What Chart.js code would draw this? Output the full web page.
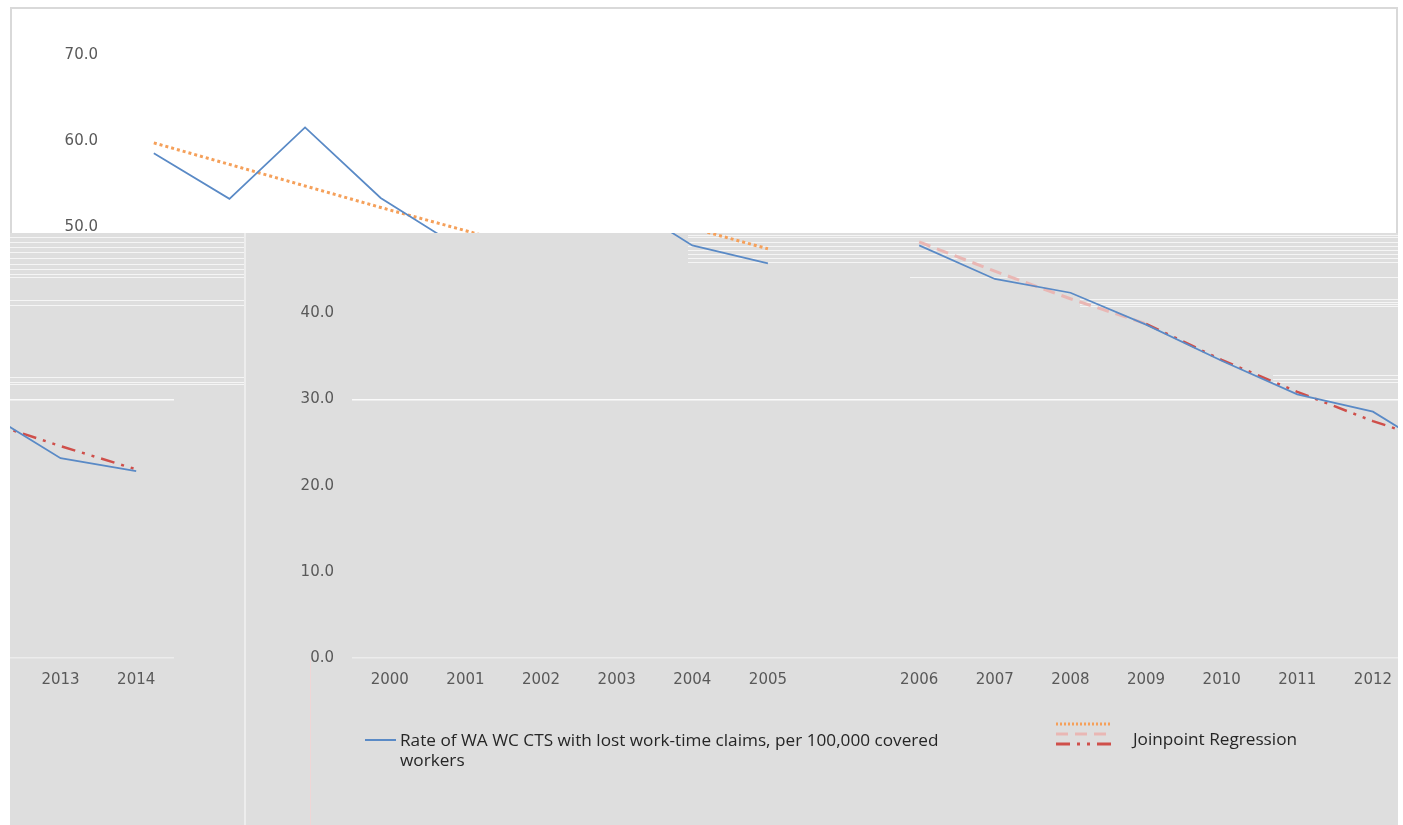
<!DOCTYPE html>
<html lang="en">
<head>
<meta charset="UTF-8">
<title>WA WC CTS lost work-time claims</title>
<script src="https://cdn.jsdelivr.net/npm/chart.js"></script>
<style>
    body { margin: 0; background: #fff; font-family: 'Open Sans', sans-serif; }
    #page { position: relative; width: 1403px; height: 825px; overflow: hidden; }
    .clip { position: absolute; overflow: hidden; }
    .chartbox { position: absolute; width: 1388px; height: 818px; }
    .chartbox canvas { position: absolute; left: 0; top: 0; }
    .frame { position: absolute; left: 0; top: 0; right: 0; bottom: 0; border: 2px solid #d9d9d9; box-sizing: border-box; }
    .gray .frame { border-color: #ededed; border-bottom: none; }
    .stripe { position: absolute; height: 1px; background: rgba(255,255,255,0.7); }
    .legend-text { position: absolute; font-size: 17.2px; line-height: 20px; color: #262626; white-space: nowrap; }
</style>
</head>
<body>
<div id="page">
    <!-- top part, white -->
    <div class="clip" style="left:0;top:0;width:1403px;height:233px;background:#fff">
        <div class="chartbox" style="left:10px;top:7px">
            <canvas id="chartTop" width="1388" height="818"></canvas>
            <div class="frame"></div>
        </div>
    </div>
    <!-- lower part, grey -->
    <div id="panel" class="clip" style="left:10px;top:233px;width:1388px;height:592px;background:#dedede"></div>
    <div class="clip gray" style="left:10px;top:233px;width:236px;height:592px">
        <div class="chartbox" style="left:-1152px;top:-226px">
            <canvas id="chartStrip" width="1388" height="818"></canvas>
            <div class="frame"></div>
        </div>
    </div>
    <div class="clip" style="left:246px;top:233px;width:1152px;height:592px">
        <div class="chartbox" style="left:0;top:-226px">
            <canvas id="chartMain" width="1388" height="818"></canvas>
        </div>
    </div>
    <div style="position:absolute;left:310px;top:660px;width:1px;height:165px;background:#efd6d6"></div>

    <!-- legend -->
    <svg style="position:absolute;left:0;top:0" width="1403" height="825">
        <line x1="365" y1="740" x2="396" y2="740" stroke="#5a8ac6" stroke-width="2"/>
        <line x1="1056" y1="724" x2="1112" y2="724" stroke="#f5a05a" stroke-width="3" stroke-dasharray="2,2"/>
        <line x1="1056" y1="734" x2="1112" y2="734" stroke="#e9b7b4" stroke-width="3" stroke-dasharray="12,7"/>
        <line x1="1056" y1="744" x2="1112" y2="744" stroke="#cf4f4a" stroke-width="3" stroke-dasharray="14,7,3,7,3,7"/>
    </svg>
    <div class="legend-text" style="left:400px;top:730px">Rate of WA WC CTS with lost work-time claims, per 100,000 covered<br>workers</div>
    <div class="legend-text" style="left:1133px;top:729px">Joinpoint Regression</div>
</div>

<script>
    // categories (blank slot between 2005 and 2006 as in the sheet)
    const years = ['2000', '2001', '2002', '2003', '2004', '2005', '', '2006', '2007', '2008', '2009', '2010', '2011', '2012', '2013', '2014'];

    // rate per 100,000 covered workers
    const rate = [58.6, 53.3, 61.6, 53.4, 47.9, 45.8, null, 47.9, 44.0, 42.4, 38.7, 34.5, 30.6, 28.6, 23.2, 21.7];

    // joinpoint segments
    const seg1 = [59.8, 57.3, 54.8, 52.3, 49.9, 47.5, null, null, null, null, null, null, null, null, null, null];
    const seg2 = [null, null, null, null, null, null, null, 48.3, 44.9, 41.7, 38.8, null, null, null, null, null];
    const seg3 = [null, null, null, null, null, null, null, null, null, null, 38.8, 34.6, 30.9, 27.5, 24.6, 21.9];

    const yMin = 0, yMax = 70, yStep = 10;

    // a few white scan lines in the grey part
    const stripes = [
        [0, 4, 236], [0, 9, 236], [0, 14, 236], [0, 19, 236], [0, 25, 236], [0, 31, 236], [0, 36, 236], [0, 41, 236], [0, 44, 236],
        [0, 67, 236], [0, 72, 236], [0, 144, 236], [0, 149, 236], [0, 151, 236],
        [678, 2, 710], [678, 4, 710], [678, 9, 710], [678, 13, 710], [678, 17, 710], [678, 21, 710], [678, 25, 710], [678, 29, 710],
        [900, 44, 488], [1070, 66, 318], [1070, 69, 318], [1070, 71, 318], [1070, 73, 318],
        [1263, 142, 125], [1263, 146, 125], [1263, 149, 125]
    ];
    const panel = document.getElementById('panel');
    stripes.forEach(s => {
        const d = document.createElement('div');
        d.className = 'stripe';
        d.style.left = s[0] + 'px';
        d.style.top = s[1] + 'px';
        d.style.width = s[2] + 'px';
        panel.appendChild(d);
    });

    Chart.defaults.font.family = "'DejaVu Sans', sans-serif";
    Chart.defaults.font.size = 15;
    Chart.defaults.color = '#595959';

    function makeConfig() {
        return {
            type: 'line',
            data: {
                labels: years,
                datasets: [
                    { label: 'Rate', data: rate, borderColor: '#5a8ac6', borderWidth: 1.75, pointRadius: 0, spanGaps: false },
                    { label: 'Joinpoint 1', data: seg1, borderColor: '#f5a05a', borderWidth: 3, borderDash: [3, 3], pointRadius: 0 },
                    { label: 'Joinpoint 2', data: seg2, borderColor: '#e9b7b4', borderWidth: 3, borderDash: [12, 7], pointRadius: 0 },
                    { label: 'Joinpoint 3', data: seg3, borderColor: '#cf4f4a', borderWidth: 2.5, borderDash: [14, 7, 3, 7, 3, 7], pointRadius: 0 }
                ]
            },
            options: {
                responsive: false,
                animation: false,
                layout: { padding: { top: 48, right: 72, left: 0, bottom: 0 } },
                plugins: { legend: { display: false }, tooltip: { enabled: false } },
                scales: {
                    x: {
                        offset: true,
                        grid: { display: false, drawTicks: false },
                        border: { display: false },
                        ticks: { autoSkip: false, maxRotation: 0, padding: 13 },
                        afterFit: s => { s.height = 167; }
                    },
                    y: {
                        min: yMin, max: yMax,
                        border: { display: false },
                        grid: {
                            drawTicks: false,
                            lineWidth: 1.5,
                            color: c => {
                                if (!c.tick) return 'rgba(0,0,0,0)';
                                if (c.tick.value === 0) return '#ececec';
                                if (c.tick.value === 30) return 'rgba(255,255,255,0.85)';
                                return 'rgba(0,0,0,0)';
                            }
                        },
                        ticks: { stepSize: yStep, padding: 18, callback: v => v.toFixed(1) },
                        afterFit: s => { s.width = 106; }
                    }
                }
            }
        };
    }

    ['chartTop', 'chartStrip', 'chartMain'].forEach(id => {
        new Chart(document.getElementById(id).getContext('2d'), makeConfig());
    });
</script>
</body>
</html>
